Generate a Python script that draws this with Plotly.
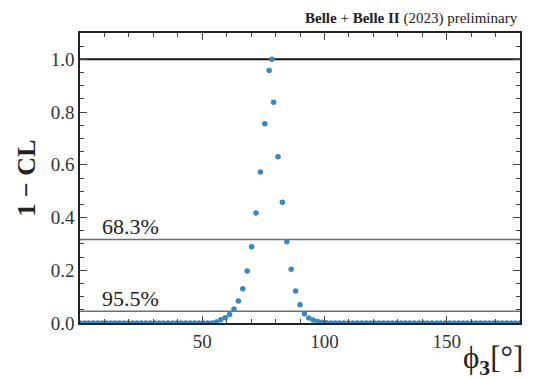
import numpy as np
import plotly.graph_objects as go

# ---- data ----
phi3_core = [55.8, 57.6, 59.4, 61.2, 63.0, 64.8, 66.6, 68.4, 70.2, 72.0, 73.8, 75.6, 77.4,
             78.5,
             79.2, 81.0, 82.8, 84.6, 86.4, 88.2, 90.0, 91.8, 93.6, 95.4, 97.2, 99.0, 100.8]
cl_core = [0.004, 0.012, 0.020, 0.032, 0.053, 0.083, 0.130, 0.197, 0.289, 0.417, 0.573, 0.756, 0.958,
           1.000,
           0.837, 0.631, 0.458, 0.308, 0.204, 0.121, 0.069, 0.035, 0.019, 0.011, 0.006, 0.003, 0.001]
phi3_tail_left = [round(1.8 * i, 1) for i in range(0, 31)]      # 0 .. 54.0
cl_tail_left = [0.0] * len(phi3_tail_left)
phi3_tail_right = [round(1.8 * i, 1) for i in range(57, 101)]   # 102.6 .. 180
cl_tail_right = [0.0] * len(phi3_tail_right)

phi3 = phi3_tail_left + phi3_core + phi3_tail_right
one_minus_cl = cl_tail_left + cl_core + cl_tail_right

ref_levels = [1.0, 0.317, 0.045]
ref_labels = ["", "68.3%", "95.5%"]
ref_colors = ["#111111", "#6e6e6e", "#6e6e6e"]
ref_widths = [2, 1.5, 1.5]

x_range = [0, 180]
y_range = [0, 1.1]
x_ticks = [50, 100, 150]
y_ticks = [0.0, 0.2, 0.4, 0.6, 0.8, 1.0]
y_tick_text = ["0.0", "0.2", "0.4", "0.6", "0.8", "1.0"]

FONT = "Liberation Serif"

fig = go.Figure()
fig.add_trace(go.Scatter(
    x=phi3, y=one_minus_cl, mode="markers",
    marker=dict(size=5.5, color="#3a87c0"),
    showlegend=False, cliponaxis=True,
))

for lvl, lab, col, w in zip(ref_levels, ref_labels, ref_colors, ref_widths):
    fig.add_shape(type="line", xref="paper", yref="y", x0=0, x1=1, y0=lvl, y1=lvl,
                  line=dict(color=col, width=w), layer="below")
    if lab:
        fig.add_annotation(x=8, y=lvl, xref="x", yref="y", text=lab, showarrow=False,
                           xanchor="left", yanchor="bottom", yshift=-2,
                           font=dict(family=FONT, size=22, color="#222"))

fig.add_annotation(xref="paper", yref="paper", x=1.0, y=1.0, yanchor="bottom", xanchor="right",
                   yshift=4, showarrow=False,
                   text="<b>Belle</b> + <b>Belle II</b> (2023) preliminary",
                   font=dict(family=FONT, size=15, color="#222"))

fig.add_annotation(xref="paper", yref="paper", x=1.0, y=0, xanchor="right", yanchor="top",
                   yshift=-15, xshift=5, showarrow=False,
                   text="ϕ<sub><b>3</b></sub>[°]",
                   font=dict(family=FONT, size=31, color="#222"))

axis_common = dict(
    showline=True, linecolor="#222", linewidth=1.5, mirror="ticks",
    ticks="inside", ticklen=7, tickwidth=1, tickcolor="#444",
    showgrid=False, zeroline=False,
    tickfont=dict(family=FONT, size=19, color="#333"),
)

fig.update_xaxes(range=x_range, tickvals=x_ticks,
                 minor=dict(dtick=10, tick0=0, ticks="inside", ticklen=4, tickcolor="#444"),
                 **axis_common)
fig.update_yaxes(range=y_range, tickvals=y_ticks, ticktext=y_tick_text,
                 minor=dict(dtick=0.05, tick0=0, ticks="inside", ticklen=4, tickcolor="#444"),
                 title=dict(text="<b>1 − CL</b>", font=dict(family=FONT, size=26, color="#222"),
                            standoff=8),
                 **axis_common)

fig.update_layout(
    width=542, height=379,
    margin=dict(l=80, r=22, t=33, b=56),
    paper_bgcolor="white", plot_bgcolor="white",
    font=dict(family=FONT),
)

fig.write_html("out.html", config={"displayModeBar": False},
               post_script="document.body.style.margin='0';document.body.style.padding='0';")
